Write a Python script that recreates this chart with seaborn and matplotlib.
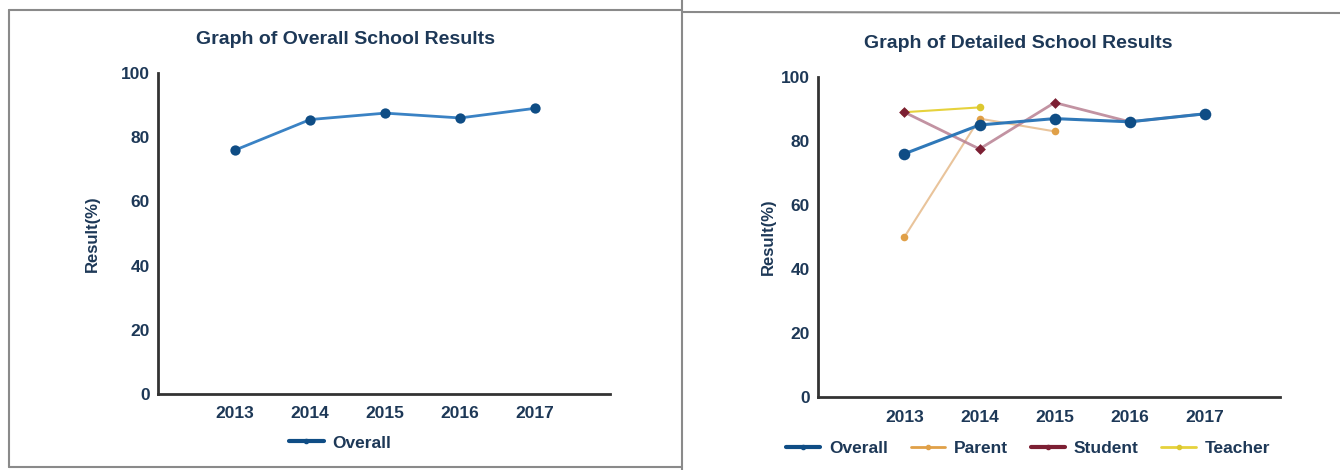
import numpy as np
import pandas as pd
import seaborn as sns
import matplotlib
matplotlib.use("Agg")
import matplotlib.pyplot as plt
from matplotlib.lines import Line2D

years = ["2013", "2014", "2015", "2016", "2017"]
overall_left = [76, 85.5, 87.5, 86, 89]
overall = [76, 85, 87, 86, 88.5]
parent = [50, 87, 83, np.nan, np.nan]
student = [89, 77.5, 92, 86, 88.5]
teacher = [89, 90.5, np.nan, np.nan, np.nan]
yticks = [0, 20, 40, 60, 80, 100]

sns.set_theme(style="white")
plt.rcParams['font.family'] = ['Liberation Sans', 'DejaVu Sans']
TXT = "#1d3857"
SPINE = "#333333"

fig = plt.figure(figsize=(13.4, 4.7), dpi=100)
W, H = 1340, 470

def px_axes(l, r, t, b):
    return fig.add_axes([l / W, 1 - b / H, (r - l) / W, (b - t) / H])

axL = px_axes(158, 610, 73, 394)
axR = px_axes(818, 1280, 77, 397)

xs = np.arange(len(years))

def style(ax, xlo, ylab_x):
    ax.set_xlim(xlo, 5.0)
    ax.set_ylim(0, 100)
    ax.set_yticks(yticks)
    ax.set_xticks(xs)
    ax.set_xticklabels(years)
    for s in ["top", "right"]:
        ax.spines[s].set_visible(False)
    for s in ["left", "bottom"]:
        ax.spines[s].set_color(SPINE)
        ax.spines[s].set_linewidth(2)
    ax.tick_params(axis="both", which="major", direction="out", length=4, width=1.5,
                   color=SPINE, labelcolor=TXT, labelsize=12.5, pad=2)
    ax.tick_params(axis="x", pad=5)
    for lab in ax.get_xticklabels() + ax.get_yticklabels():
        lab.set_fontweight("bold")
    ax.set_ylabel("Result(%)", color=TXT, fontsize=12, fontweight="bold")
    ax.yaxis.set_label_coords(ylab_x, 0.5)
    ax.set_xlabel("")
    ax.grid(False)

def series(ax, vals, lcolor, mcolor, marker, ms, lw, alpha, z):
    df = pd.DataFrame({"x": xs, "y": vals}).dropna()
    sns.lineplot(data=df, x="x", y="y", ax=ax, color=lcolor, linewidth=lw, alpha=alpha, zorder=z)
    sns.scatterplot(data=df, x="x", y="y", ax=ax, color=mcolor, marker=marker, s=ms,
                    edgecolor=mcolor, linewidth=0, zorder=z + 0.5)

# Left chart
series(axL, overall_left, "#3a82c4", "#0f4d85", "o", 55, 2.0, 1.0, 3)
style(axL, -1.03, (100 - 158) / 452)

# Right chart
series(axR, parent, "#e2b07a", "#e0a048", "o", 30, 1.5, 0.75, 2)
series(axR, teacher, "#e6d23c", "#dcc830", "o", 30, 1.5, 1.0, 2)
series(axR, student, "#b88092", "#7c1f33", "D", 30, 2.0, 0.85, 3)
series(axR, overall, "#2f78b8", "#0f4d85", "o", 70, 2.2, 1.0, 4)
style(axR, -1.15, (776 - 818) / 462)

# Titles
fig.text(345 / W, 1 - 40 / H, "Graph of Overall School Results", ha="center", va="center",
         fontsize=14, fontweight="bold", color=TXT)
fig.text(1018 / W, 1 - 44 / H, "Graph of Detailed School Results", ha="center", va="center",
         fontsize=14, fontweight="bold", color=TXT)

def handle(color, mcolor, lw=3):
    return Line2D([0], [0], color=color, lw=lw, marker="o", markersize=3, markerfacecolor=mcolor,
                  markeredgecolor=mcolor)

legL = fig.legend(handles=[handle("#0f4d85", "#0f4d85")], labels=["Overall"],
                  loc="center", bbox_to_anchor=(340 / W, 1 - 443 / H), frameon=False,
                  prop={"weight": "bold", "size": 12.5}, handlelength=2.0, handletextpad=0.5)
for t in legL.get_texts():
    t.set_color(TXT)

legR = fig.legend(handles=[handle("#0f4d85", "#0f4d85"), handle("#e0a048", "#e0a048", 2),
                           handle("#7c1f33", "#7c1f33"), handle("#e6d23c", "#dcc830", 2)],
                  labels=["Overall", "Parent", "Student", "Teacher"],
                  loc="center", bbox_to_anchor=(1028 / W, 1 - 448 / H), frameon=False, ncol=4,
                  prop={"weight": "bold", "size": 12.5}, handlelength=2.0, handletextpad=0.5,
                  columnspacing=1.3)
for t in legR.get_texts():
    t.set_color(TXT)

# Panel borders
bc = "#8a8a8a"
def fline(x0, y0, x1, y1, lw=1.5):
    fig.add_artist(Line2D([x0 / W, x1 / W], [1 - y0 / H, 1 - y1 / H], color=bc, lw=lw,
                          transform=fig.transFigure))

fline(9, 10, 682, 10)
fline(682, 12, 1340, 13)
fline(9, 10, 9, 467)
fline(9, 467, 682, 467)
fline(682, 0, 682, 470)

fig.savefig("out.png", dpi=100, facecolor="white")
